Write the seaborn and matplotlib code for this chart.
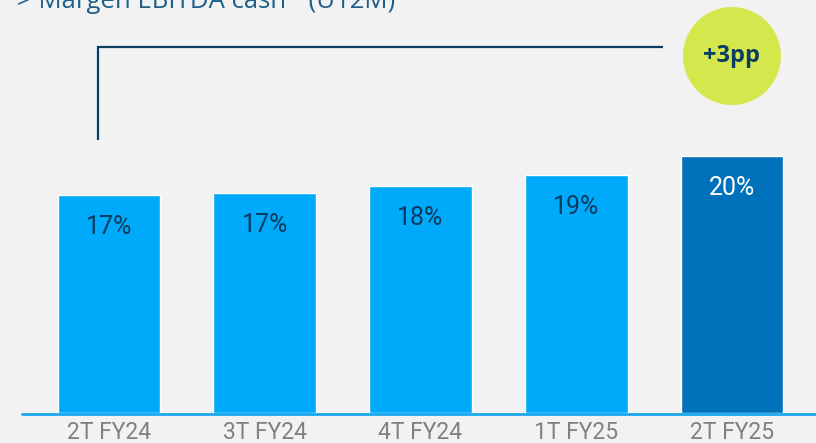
import matplotlib
matplotlib.use("Agg")
import matplotlib.pyplot as plt
import seaborn as sns
import pandas as pd

# datos
periodos = ["2T FY24", "3T FY24", "4T FY24", "1T FY25", "2T FY25"]
margen = [17.0, 17.1, 17.7, 18.5, 20.0]
etiquetas = ["17%", "17%", "18%", "19%", "20%"]
colores = ["#00AAFA", "#00AAFA", "#00AAFA", "#00AAFA", "#0072BB"]
color_texto = ["#0B3A5C", "#0B3A5C", "#0B3A5C", "#0B3A5C", "#FFFFFF"]
titulo = "> Margen EBITDA cash\u00b9  (U12M)"
variacion = "+3pp"

fondo = "#F2F2F2"
sns.set_style("white")
plt.rcParams["font.family"] = ["Roboto", "DejaVu Sans"]

df = pd.DataFrame({"periodo": periodos, "margen": margen})

fig = plt.figure(figsize=(8.16, 4.43), dpi=100, facecolor=fondo)
ax = fig.add_axes([0, 30 / 443, 1, 413 / 443])
ax.set_facecolor(fondo)

sns.barplot(data=df, x="periodo", y="margen", hue="periodo", palette=colores,
            width=0.66, legend=False, ax=ax, saturation=1)

ax.set_xlim(-0.70, 4.54)
ax.set_ylim(0, 32.14)
for s in ax.spines.values():
    s.set_visible(False)
ax.set_yticks([])
ax.set_xlabel("")
ax.set_ylabel("")
ax.tick_params(axis="x", length=0, pad=6, labelsize=16.5, labelcolor="#808080")

# linea base
ax.axhline(-0.05, xmin=22 / 816, xmax=1, color="#1AA8F0", lw=2, clip_on=False, zorder=3)

# etiquetas dentro de las barras
for i, (v, lab, c) in enumerate(zip(margen, etiquetas, color_texto)):
    ax.text(i, v - 2.5, lab, ha="center", va="center", fontsize=18,
            color=c)

# corchete de comparacion
y_top = max(margen) + 8.48
ax.plot([-0.07, -0.07, 3.56], [margen[0] + 4.25, y_top, y_top],
        color="#0A3D62", lw=1.6, solid_capstyle="butt", solid_joinstyle="miter")
ax.scatter([4], [max(margen) + 7.78], s=4980, color="#D4E84E", edgecolors="none",
           zorder=4, clip_on=False)
ax.text(4, max(margen) + 7.78, variacion, ha="center", va="center", fontsize=17,
        fontweight="bold", color="#0A3D62", zorder=5, family=["Open Sans", "DejaVu Sans"])

fig.text(17 / 816, 1 - 8 / 443, titulo, ha="left", va="baseline", fontsize=18.5,
         color="#1D5F8A", family=["Open Sans", "DejaVu Sans"])

fig.savefig("out.png", dpi=100, facecolor=fondo)
